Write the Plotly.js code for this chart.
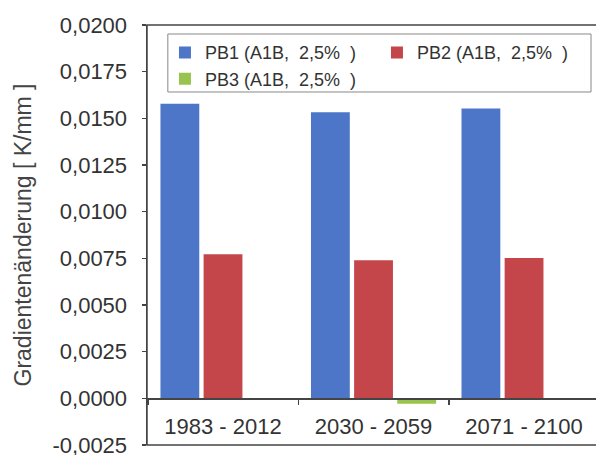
<!DOCTYPE html>
<html>
<head>
<meta charset="utf-8">
<script src="https://cdn.plot.ly/plotly-3.0.1.min.js"></script>
<style>html,body{margin:0;padding:0;background:#fff;}#chart{width:596px;height:455px;}</style>
</head>
<body>
<div id="chart"></div>
<script>
var categories = ["1983 - 2012", "2030 - 2059", "2071 - 2100"];
var seriesNames = ["PB1 (A1B,  2,5%  )", "PB2 (A1B,  2,5%  )", "PB3 (A1B,  2,5%  )"];
var pb1 = [0.01578, 0.01532, 0.01552];
var pb2 = [0.00772, 0.00740, 0.00751];
var pb3 = [0.0, -0.00030, 0.0];
var yTicks = [-0.0025, 0, 0.0025, 0.005, 0.0075, 0.01, 0.0125, 0.015, 0.0175, 0.02];
var yTickText = ["-0,0025", "0,0000", "0,0025", "0,0050", "0,0075", "0,0100", "0,0125", "0,0150", "0,0175", "0,0200"];
var colors = ["#4d76c8", "#c4464a", "#98c44e"];

var font = "Liberation Sans, Arial, sans-serif";
var traces = [pb1, pb2, pb3].map(function (vals, i) {
  return {
    type: "bar",
    x: categories,
    y: vals,
    name: seriesNames[i],
    marker: {color: colors[i]},
    hoverinfo: "none"
  };
});

var layout = {
  width: 596, height: 455,
  margin: {l: 147, r: 0, t: 25, b: 10, pad: 0},
  paper_bgcolor: "#fff", plot_bgcolor: "#fff",
  barmode: "group", bargap: 0.14, bargroupgap: 0.1,
  separators: ",.",
  font: {family: font, color: "#333"},
  showlegend: true,
  legend: {
    orientation: "h", x: 0.04, xanchor: "left", y: 0.978, yanchor: "top",
    bgcolor: "rgba(0,0,0,0)", borderwidth: 0,
    font: {size: 18, color: "#333", family: font},
    entrywidth: 167, traceorder: "normal"
  },
  xaxis: {
    type: "category", range: [-0.505, 2.478],
    anchor: "free", position: 0.1111,
    showline: true, linecolor: "#444", linewidth: 1.5,
    ticks: "outside", ticklen: 5, tickcolor: "#444", tickwidth: 1.5,
    tickson: "boundaries", showgrid: false, zeroline: false,
    tickfont: {size: 22, color: "#333", family: font},
    ticklabelstandoff: 8
  },
  yaxis: {
    range: [-0.002505, 0.02], tickmode: "array", tickvals: yTicks, ticktext: yTickText,
    ticklabeloverflow: "allow",
    showline: true, linecolor: "#444", linewidth: 1.5,
    ticks: "outside", ticklen: 4, tickcolor: "#444", tickwidth: 1.5,
    showgrid: false, zeroline: false,
    tickfont: {size: 22, color: "#333", family: font},
    ticklabelstandoff: 10,
    title: {text: "Gradientenänderung [ K/mm ]", font: {size: 23, color: "#444", family: font}, standoff: 14}
  },
  shapes: [{
    type: "rect", xref: "paper", yref: "paper", x0: 0, x1: 1.05, y0: 0, y1: 1,
    line: {color: "#444", width: 1.5}, layer: "above"
  }, {
    type: "rect", xref: "paper", yref: "paper", x0: 0.0464, x1: 0.9889, y0: 0.8405, y1: 0.9786,
    line: {color: "#888", width: 1}, fillcolor: "#fff", layer: "above"
  }]
};

Plotly.newPlot("chart", traces, layout, {displayModeBar: false, staticPlot: true});
</script>
</body>
</html>
